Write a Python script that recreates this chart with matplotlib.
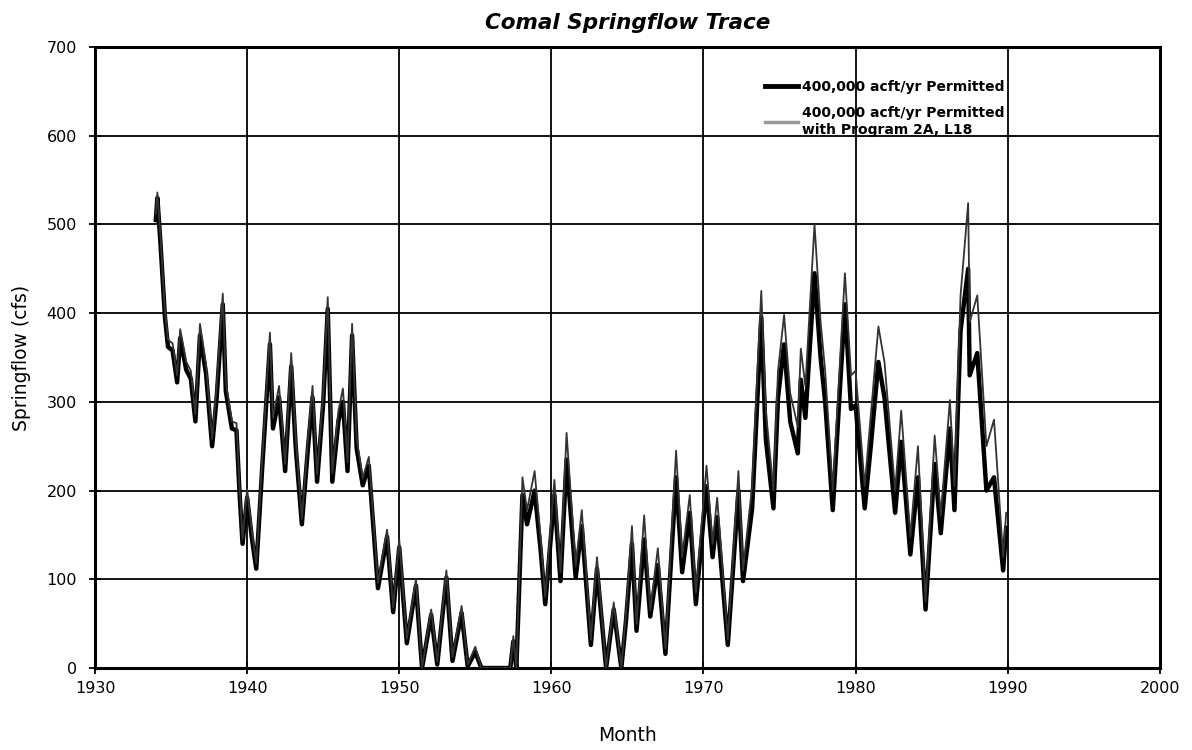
import matplotlib
matplotlib.use("Agg")
import matplotlib.pyplot as plt

plt.rcParams['font.family'] = ['DejaVu Sans']

# Decimal year of each turning point
years = [1934.0, 1934.1, 1934.3, 1934.6, 1934.8, 1935.1, 1935.4, 1935.6, 1936.0, 1936.3,
         1936.6, 1936.9, 1937.3, 1937.7, 1938.0, 1938.4, 1938.6, 1939.0, 1939.3, 1939.5,
         1939.7, 1940.0, 1940.3, 1940.6, 1941.0, 1941.5, 1941.7, 1942.1, 1942.5, 1942.9,
         1943.2, 1943.6, 1944.0, 1944.3, 1944.6, 1945.0, 1945.3, 1945.6, 1946.0, 1946.3,
         1946.6, 1946.9, 1947.2, 1947.6, 1948.0, 1948.6, 1949.2, 1949.6, 1950.0, 1950.5,
         1951.1, 1951.5, 1952.1, 1952.5, 1953.1, 1953.5, 1954.1, 1954.5, 1955.0, 1955.4,
         1957.3, 1957.5, 1957.7, 1958.1, 1958.4, 1958.9, 1959.3, 1959.6, 1960.2, 1960.6,
         1961.0, 1961.6, 1962.0, 1962.6, 1963.0, 1963.6, 1964.1, 1964.6, 1964.9, 1965.3,
         1965.6, 1966.1, 1966.5, 1967.0, 1967.5, 1968.2, 1968.6, 1969.1, 1969.5, 1970.2,
         1970.6, 1970.9, 1971.6, 1972.3, 1972.6, 1973.2, 1973.8, 1974.1, 1974.6, 1974.9,
         1975.3, 1975.7, 1976.2, 1976.4, 1976.7, 1977.3, 1977.7, 1978.0, 1978.5, 1979.3,
         1979.7, 1980.0, 1980.6, 1981.0, 1981.5, 1981.9, 1982.6, 1983.0, 1983.6, 1984.1,
         1984.6, 1985.2, 1985.6, 1986.2, 1986.5, 1986.9, 1987.4, 1987.5, 1988.0, 1988.6,
         1989.1, 1989.7, 1989.9]

# 400,000 acft/yr Permitted (thick line), cfs
permitted = [505, 530, 480, 395, 362, 358, 322, 372, 336, 326,
             278, 375, 332, 250, 305, 410, 312, 270, 268, 198,
             140, 192, 148, 112, 228, 365, 270, 305, 222, 340,
             248, 162, 248, 305, 210, 298, 405, 210, 278, 300,
             222, 375, 248, 206, 228, 90, 148, 63, 136, 28,
             93, 0, 60, 4, 102, 8, 62, 2, 18, 0,
             0, 30, 0, 195, 162, 200, 132, 72, 195, 98,
             235, 102, 160, 26, 112, 0, 66, 0, 52, 140,
             42, 145, 58, 116, 16, 215, 108, 175, 72, 205,
             125, 170, 26, 200, 98, 180, 395, 258, 180, 305,
             365, 278, 242, 325, 282, 445, 350, 300, 178, 410,
             292, 296, 180, 250, 345, 305, 175, 255, 128, 215,
             66, 230, 152, 270, 178, 380, 450, 330, 355, 200,
             215, 110, 158]

# 400,000 acft/yr Permitted with Program 2A, L18 (thin line), cfs
program = [512, 536, 488, 402, 370, 366, 330, 382, 345, 335,
           286, 388, 342, 258, 318, 422, 322, 278, 276, 205,
           145, 202, 155, 118, 238, 378, 282, 318, 230, 355,
           258, 168, 258, 318, 218, 310, 418, 220, 290, 315,
           232, 388, 258, 214, 238, 96, 156, 68, 145, 33,
           100, 0, 66, 7, 110, 12, 70, 4, 24, 0,
           0, 36, 0, 215, 178, 222, 145, 80, 212, 108,
           265, 115, 178, 32, 125, 0, 74, 0, 60, 160,
           50, 172, 65, 135, 22, 245, 125, 195, 85, 228,
           140, 192, 32, 222, 110, 205, 425, 290, 200, 335,
           398, 310, 272, 360, 318, 500, 390, 335, 200, 445,
           330, 335, 205, 285, 385, 345, 200, 290, 148, 250,
           75, 262, 172, 302, 205, 420, 524, 390, 420, 250,
           280, 125, 175]

x_ticks = [1930, 1940, 1950, 1960, 1970, 1980, 1990, 2000]
y_ticks = [0, 100, 200, 300, 400, 500, 600, 700]

fig = plt.figure(figsize=(11.92, 7.5), dpi=100)
ax = fig.add_axes([0.0797, 0.1093, 0.8933, 0.828])

ax.plot(years, permitted, color='black', lw=3.2, solid_joinstyle='round',
        label='400,000 acft/yr Permitted', zorder=3)
ax.plot(years, program, color='#333333', lw=1.3,
        label='400,000 acft/yr Permitted\nwith Program 2A, L18', zorder=4)

ax.set_xlim(1930, 2000)
ax.set_ylim(0, 700)
ax.set_xticks(x_ticks)
ax.set_yticks(y_ticks)
ax.grid(True, color='black', lw=1.3)
ax.set_axisbelow(True)
for s in ax.spines.values():
    s.set_linewidth(2.2)
ax.tick_params(direction='inout', length=8, width=1.3, labelsize=11.5)
ax.tick_params(axis='x', pad=5)
ax.tick_params(axis='y', pad=9)

ax.set_title('Comal Springflow Trace', fontsize=15.5, fontweight='bold', style='italic', pad=13)
ax.set_xlabel('Month', fontsize=13.5, labelpad=22)
ax.set_ylabel('Springflow (cfs)', fontsize=13.5, labelpad=11)

leg = ax.legend(loc='upper left', bbox_to_anchor=(0.629, 0.947), frameon=False,
                borderaxespad=0, borderpad=0,
                prop={'size': 10, 'weight': 'bold'}, handlelength=2.4,
                handletextpad=0.3, labelspacing=0.9)
leg.get_lines()[0].set_linewidth(3.5)
leg.get_lines()[1].set_color('#999999')
leg.get_lines()[1].set_linewidth(2.5)

fig.savefig('out.png', dpi=100, facecolor='white')
